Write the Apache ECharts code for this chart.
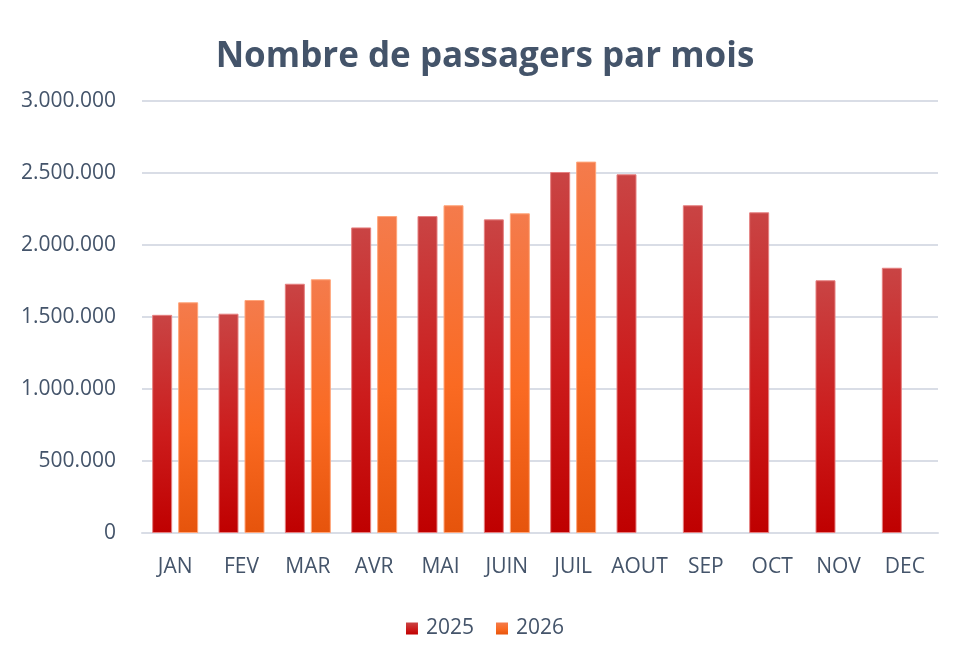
<!DOCTYPE html>
<html>
<head>
<meta charset="utf-8">
<script src="https://cdn.jsdelivr.net/npm/echarts@6/dist/echarts.min.js"></script>
<style>
  html, body { margin: 0; padding: 0; background: #fff; }
  #chart { width: 970px; height: 672px; }
</style>
</head>
<body>
<div id="chart"></div>
<script>
var months = ['JAN', 'FEV', 'MAR', 'AVR', 'MAI', 'JUIN', 'JUIL', 'AOUT', 'SEP', 'OCT', 'NOV', 'DEC'];
var pax2025 = [1515000, 1523000, 1731000, 2122000, 2201000, 2178000, 2507000, 2491000, 2276000, 2227000, 1755000, 1842000];
var pax2026 = [1602000, 1618000, 1762000, 2201000, 2276000, 2220000, 2579000, null, null, null, null, null];

var textColor = '#44546a';
var font = '"Open Sans", "DejaVu Sans", sans-serif';

function grad(top, mid, bottom) {
  return new echarts.graphic.LinearGradient(0, 0, 0, 1, [
    { offset: 0, color: top },
    { offset: 0.55, color: mid },
    { offset: 1, color: bottom }
  ]);
}

// 1.500.000 style
function fmt(v) {
  return String(v).replace(/\B(?=(\d{3})+(?!\d))/g, '.');
}

var myChart = echarts.init(document.getElementById('chart'));

var option = {
  backgroundColor: '#fff',
  animation: false,
  textStyle: { fontFamily: font },
  title: {
    text: 'Nombre de passagers par mois',
    left: 'center',
    top: 35,
    textStyle: { color: textColor, fontSize: 35, fontWeight: 'bold', fontFamily: font }
  },
  legend: {
    bottom: 28,
    left: 'center',
    itemWidth: 12,
    itemHeight: 12,
    itemGap: 22,
    icon: 'rect',
    itemStyle: { borderWidth: 0 },
    textStyle: { color: textColor, fontSize: 21, fontFamily: font, padding: [0, 0, 0, 3] },
    data: ['2025', '2026']
  },
  grid: { left: 142, right: 32, top: 101, bottom: 139 },
  xAxis: {
    type: 'category',
    data: months,
    axisTick: { show: false },
    axisLine: { lineStyle: { color: '#d9dde6', width: 2 } },
    axisLabel: { color: textColor, fontSize: 21, margin: 24, interval: 0, fontFamily: font }
  },
  yAxis: {
    type: 'value',
    min: 0,
    max: 3000000,
    interval: 500000,
    axisLine: { show: false },
    axisTick: { show: false },
    splitLine: { lineStyle: { color: '#d9dde6', width: 2 } },
    axisLabel: { color: textColor, fontSize: 21, margin: 26, fontFamily: font, formatter: fmt }
  },
  series: [
    {
      name: '2025',
      type: 'bar',
      data: pax2025,
      barWidth: 20,
      barGap: '30%',
      itemStyle: {
        color: grad('#c94444', '#cc1c1c', '#bf0000'),
        borderColor: '#e58080',
        borderWidth: 1
      }
    },
    {
      name: '2026',
      type: 'bar',
      data: pax2026,
      barWidth: 20,
      itemStyle: {
        color: grad('#f47b4c', '#fa6a22', '#e6540c'),
        borderColor: '#ffa57a',
        borderWidth: 1
      }
    }
  ]
};

myChart.setOption(option);
</script>
</body>
</html>
